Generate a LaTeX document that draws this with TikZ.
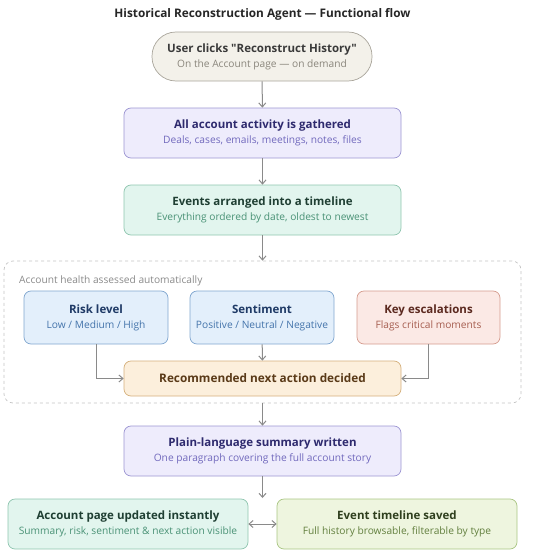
\documentclass[tikz,border=0pt]{standalone}
\usepackage{fontspec}
\setmainfont{Open Sans}[Ligatures=TeXOff]
\usetikzlibrary{arrows.meta}
\definecolor{arrowc}{HTML}{8A8A8A}
\definecolor{stF}{HTML}{F3F1EA}\definecolor{stD}{HTML}{A9A59B}\definecolor{stT}{HTML}{3A3A3A}\definecolor{stS}{HTML}{8A867C}
\definecolor{puF}{HTML}{EEECFC}\definecolor{puD}{HTML}{9C95D2}\definecolor{puT}{HTML}{2E2A6E}\definecolor{puS}{HTML}{7169BD}
\definecolor{grF}{HTML}{E2F5EE}\definecolor{grD}{HTML}{8FC5AF}\definecolor{grT}{HTML}{1F3F33}\definecolor{grS}{HTML}{4A9276}
\definecolor{blF}{HTML}{E3EFFB}\definecolor{blD}{HTML}{80A6CF}\definecolor{blT}{HTML}{1F3A66}\definecolor{blS}{HTML}{4474AB}
\definecolor{reF}{HTML}{FBE9E5}\definecolor{reD}{HTML}{D59C8E}\definecolor{reT}{HTML}{5C2A20}\definecolor{reS}{HTML}{A65E50}
\definecolor{orF}{HTML}{FCEFDC}\definecolor{orD}{HTML}{D5B07C}\definecolor{orT}{HTML}{5A3A18}
\definecolor{lgF}{HTML}{EEF5DF}\definecolor{lgD}{HTML}{A9C582}\definecolor{lgT}{HTML}{2F3F1E}\definecolor{lgS}{HTML}{63803F}
\definecolor{grpD}{HTML}{C4C4C4}\definecolor{grpT}{HTML}{8A8A8A}
\tikzset{
  box/.style={draw, rounded corners=7pt, line width=0.7pt, align=center, inner sep=0pt},
  arr/.style={draw=arrowc, line width=1pt, -{Straight Barb[length=4pt,width=7pt]}},
  arrtwo/.style={draw=arrowc, line width=1pt, {Straight Barb[length=4pt,width=7pt]}-{Straight Barb[length=4pt,width=7pt]}},
}
\newcommand{\bxt}[4]{{\color{#1}\fontsize{11.5}{13}\selectfont\bfseries #2}\\[3pt]{\color{#3}\fontsize{10.2}{12}\selectfont #4}}
\begin{document}
\begin{tikzpicture}[x=1pt,y=-1pt]
\useasboundingbox (0,0) rectangle (543,551);
\node[font=\fontsize{11.8}{13}\selectfont\bfseries, text=black!85] (title) at (262.5,14) {Historical Reconstruction Agent — Functional flow};

\node[box, fill=stF, draw=stD, rounded corners=24pt, minimum width=220pt, minimum height=49pt] (start) at (262,56.5)
  {\bxt{stT}{User clicks "Reconstruct History"}{stS}{On the Account page — on demand}};

\node[box, fill=puF, draw=puD, minimum width=277pt, minimum height=50pt] (gather) at (262.5,133)
  {\bxt{puT}{All account activity is gathered}{puS}{Deals, cases, emails, meetings, notes, files}};

\node[box, fill=grF, draw=grD, minimum width=277pt, minimum height=50pt] (tline) at (262.5,210)
  {\bxt{grT}{Events arranged into a timeline}{grS}{Everything ordered by date, oldest to newest}};

\node[draw=grpD, dashed, rounded corners=9pt, line width=0.7pt, minimum width=517pt, minimum height=142pt, inner sep=0pt] (grp) at (262.5,332) {};
\node[anchor=west, text=grpT, font=\fontsize{10.2}{12}\selectfont, inner sep=0pt] (grplbl) at (19,281) {Account health assessed automatically};

\node[box, fill=blF, draw=blD, minimum width=144pt, minimum height=53pt] (risk) at (96,317.5)
  {\bxt{blT}{Risk level}{blS}{Low / Medium / High}};
\node[box, fill=blF, draw=blD, minimum width=144pt, minimum height=53pt] (sent) at (262,317.5)
  {\bxt{blT}{Sentiment}{blS}{Positive / Neutral / Negative}};
\node[box, fill=reF, draw=reD, minimum width=143pt, minimum height=53pt] (esc) at (428.5,317.5)
  {\bxt{reT}{Key escalations}{reS}{Flags critical moments}};

\node[box, fill=orF, draw=orD, minimum width=277pt, minimum height=35pt, text=orT, font=\fontsize{11.8}{13}\selectfont\bfseries] (rec) at (262.5,378.5)
  {Recommended next action decided};

\node[box, fill=puF, draw=puD, minimum width=277pt, minimum height=50pt] (summ) at (262.5,451)
  {\bxt{puT}{Plain-language summary written}{puS}{One paragraph covering the full account story}};

\node[box, fill=grF, draw=grD, minimum width=240pt, minimum height=50pt] (acct) at (128,524)
  {\bxt{grT}{Account page updated instantly}{grS}{Summary, risk, sentiment \& next action visible}};
\node[box, fill=lgF, draw=lgD, minimum width=240pt, minimum height=50pt] (evt) at (397,524)
  {\bxt{lgT}{Event timeline saved}{lgS}{Full history browsable, filterable by type}};

\coordinate (split) at (262.5,498);

\draw[arr] (start) -- (gather);
\draw[arr] (gather) -- (tline);
\draw[arr] (tline) -- (grp.north);
\draw[arr] (risk.south) |- (rec.west);
\draw[arr] (esc.south) |- (rec.east);
\draw[arr] (sent) -- (rec);
\draw[arr] (grp.south) -- (summ);
\draw[arr] (summ) -- (split);
\draw[arrtwo] (acct) -- (evt);
\end{tikzpicture}
\end{document}
